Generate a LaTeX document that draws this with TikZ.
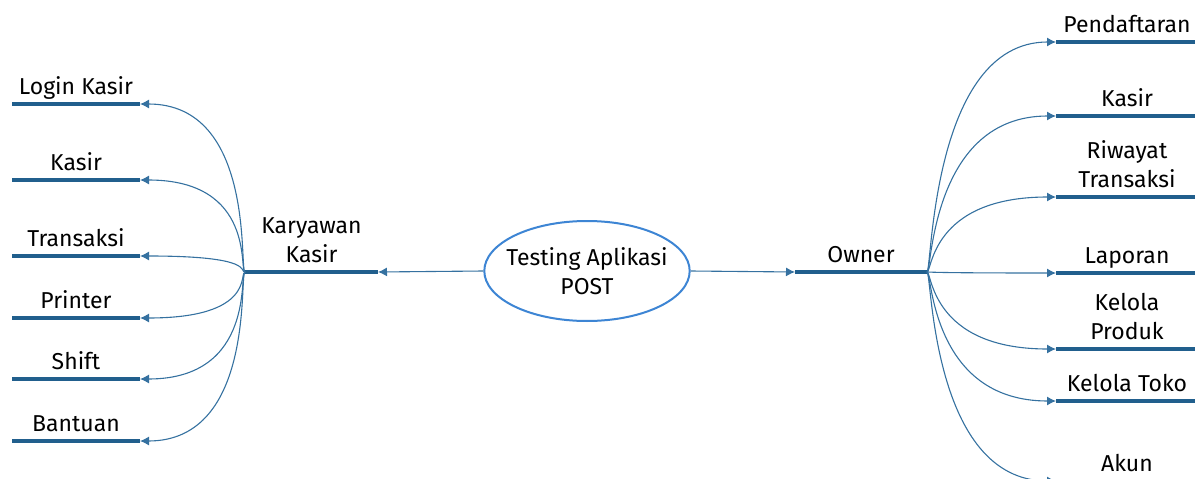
\documentclass[tikz,border=0pt]{standalone}
\usepackage{fontspec}
\setmainfont{Fira Sans}
\usetikzlibrary{arrows.meta, shapes.geometric, calc, positioning}
\definecolor{barBlue}{HTML}{215F8D}
\definecolor{twigBlue}{HTML}{3571A0}
\definecolor{rimBlue}{HTML}{3D85D4}
\tikzset{
    bar/.style={line width=4pt, barBlue},
    twig/.style={-{Latex[length=9pt, width=9pt]}, line width=1.1pt, twigBlue},
    tag/.style={font=\fontsize{23}{29}\selectfont, align=center, inner sep=0pt, anchor=base},
    hub/.style={ellipse, draw=rimBlue, line width=2pt, fill=white, minimum height=100pt, inner xsep=-8pt, inner ysep=0pt, align=center, font=\fontsize{23}{29}\selectfont},
}
% leaf on the left: name, y, text
\newcommand{\leafLeft}[3]{
    \coordinate (#1-tip) at (140,#2);
    \coordinate (#1-end) at (12,#2);
    \draw[bar] (#1-end) -- (#1-tip);
    \node[tag] (#1) at ($(#1-end)!0.5!(#1-tip)+(0,-10)$) {#3};
    \draw[twig] (kk-root) .. controls +(-6,0) and +(116,0) .. (#1-tip);
}
% leaf on the right: name, y, text
\newcommand{\leafRight}[3]{
    \coordinate (#1-tip) at (1056,#2);
    \coordinate (#1-end) at (1198,#2);
    \draw[bar] (#1-tip) -- (#1-end);
    \node[tag] (#1) at ($(#1-end)!0.5!(#1-tip)+(0,-10)$) {#3};
    \draw[twig] (ow-root) .. controls +(5,0) and +(-125,0) .. (#1-tip);
}

\begin{document}
\begin{tikzpicture}[x=1pt, y=-1pt]
    \useasboundingbox (0,0) rectangle (1195,479);

    % centre
    \node[hub] (post) at (587,271) {Testing Aplikasi\\POST};

    % branch: Karyawan Kasir
    \coordinate (kk-root) at (245,272);
    \coordinate (kk-tip) at (378,272);
    \draw[bar] (kk-root) -- (kk-tip);
    \node[tag] (kk) at ($(kk-root)!0.5!(kk-tip)+(0,-10)$) {Karyawan\\Kasir};
    \draw[twig] (post.west) -- (kk-tip);

    % branch: Owner
    \coordinate (ow-tip) at (795,272);
    \coordinate (ow-root) at (927,272);
    \draw[bar] (ow-tip) -- (ow-root);
    \node[tag] (ow) at ($(ow-root)!0.5!(ow-tip)+(0,-10)$) {Owner};
    \draw[twig] (post.east) -- (ow-tip);

    \leafLeft{login}{104}{Login Kasir}
    \leafLeft{kasirL}{180}{Kasir}
    \leafLeft{trans}{256}{Transaksi}
    \leafLeft{print}{318}{Printer}
    \leafLeft{shift}{379}{Shift}
    \leafLeft{help}{441}{Bantuan}

    \leafRight{daftar}{42}{Pendaftaran}
    \leafRight{kasirR}{116}{Kasir}
    \leafRight{riwayat}{197}{Riwayat\\Transaksi}
    \leafRight{lapor}{273}{Laporan}
    \leafRight{produk}{349}{Kelola\\Produk}
    \leafRight{toko}{401}{Kelola Toko}
    \leafRight{akun}{481}{Akun}

\end{tikzpicture}
\end{document}
